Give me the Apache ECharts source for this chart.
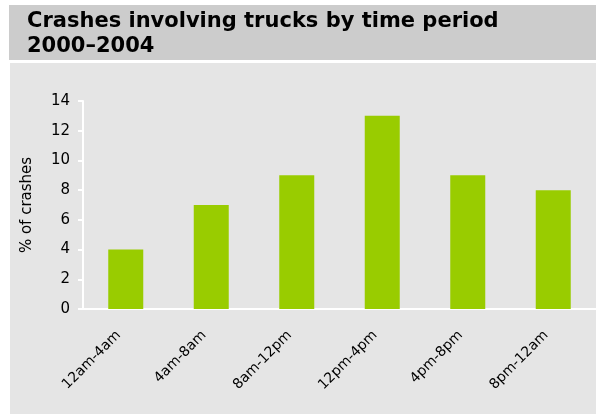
<!DOCTYPE html>
<html>
<head>
<meta charset="utf-8">
<script src="https://cdn.jsdelivr.net/npm/echarts@6/dist/echarts.min.js"></script>
<style>
  html, body { margin: 0; padding: 0; background: #ffffff; }
  #chart { width: 596px; height: 414px; }
</style>
</head>
<body>
<div id="chart"></div>
<script>
// Share of truck crashes by four-hour period of the day
const periods = ['12am-4am', '4am-8am', '8am-12pm', '12pm-4pm', '4pm-8pm', '8pm-12am'];
const crashShare = [4, 7, 9, 13, 9, 8];
const yTicks = { min: 0, max: 14, interval: 2 };

const chart = echarts.init(document.getElementById('chart'), null, { renderer: 'canvas' });
const font = '"DejaVu Sans", Verdana, sans-serif';

chart.setOption({
  animation: false,
  backgroundColor: '#ffffff',
  graphic: [
    { type: 'rect', shape: { x: 9, y: 5, width: 600, height: 55 }, style: { fill: '#cccccc' }, z: -10 },
    { type: 'rect', shape: { x: 10, y: 63, width: 600, height: 360 }, style: { fill: '#e5e5e5' }, z: -10 }
  ],
  title: {
    text: 'Crashes involving trucks by time period\n2000\u20132004',
    left: 22,
    top: 4,
    textStyle: { fontFamily: font, fontWeight: 'bold', fontSize: 21, color: '#000000', lineHeight: 25 }
  },
  grid: { left: 83, right: -3, top: 101, bottom: 105, containLabel: false },
  xAxis: {
    type: 'category',
    data: periods,
    axisLine: { show: true, lineStyle: { color: '#ffffff', width: 2 } },
    axisTick: { show: false },
    axisLabel: {
      rotate: 45, fontFamily: font, fontSize: 14, color: '#000000',
      margin: 17, interval: 0, padding: [0, 10, 0, 0]
    },
    splitLine: { show: false }
  },
  yAxis: {
    type: 'value',
    min: yTicks.min,
    max: yTicks.max,
    interval: yTicks.interval,
    name: '% of crashes',
    nameLocation: 'middle',
    nameGap: 48,
    nameRotate: 90,
    nameTextStyle: { fontFamily: font, fontSize: 15, color: '#000000' },
    axisLine: { show: true, lineStyle: { color: '#ffffff', width: 2 } },
    axisTick: { show: true, length: 5, lineStyle: { color: '#ffffff', width: 2 } },
    axisLabel: { fontFamily: font, fontSize: 15, color: '#000000', margin: 13 },
    splitLine: { show: false }
  },
  series: [{
    type: 'bar',
    data: crashShare,
    barWidth: 35,
    itemStyle: { color: '#99cc00' }
  }]
});
</script>
</body>
</html>
